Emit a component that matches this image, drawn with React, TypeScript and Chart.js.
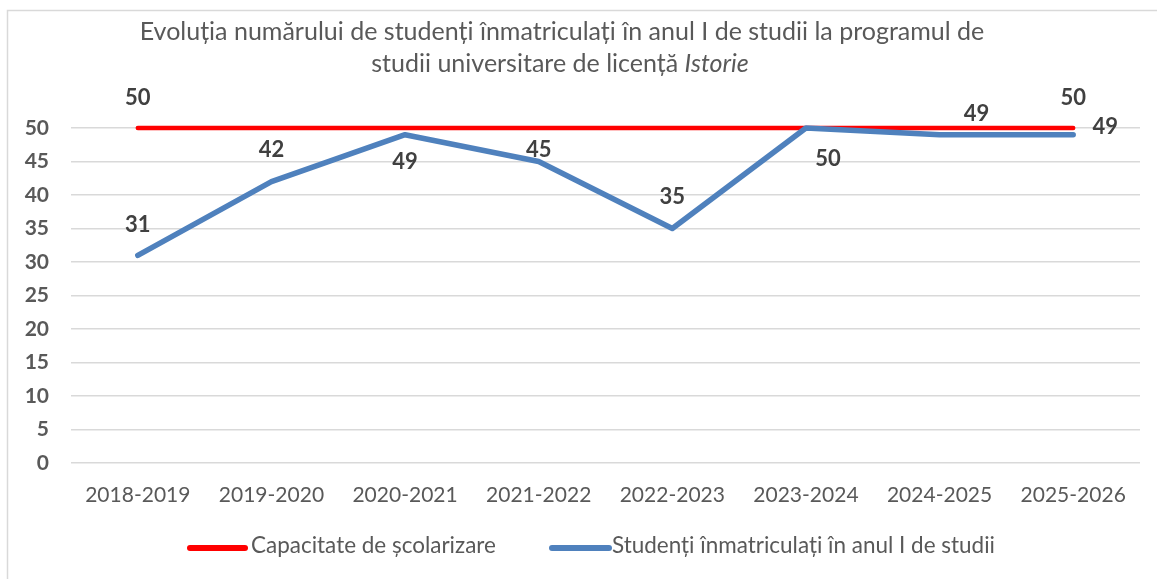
import React, { useEffect, useRef } from "react";
import { Chart, registerables } from "chart.js";

Chart.register(...registerables);

// ---------- data ----------
const categories = [
  "2018-2019",
  "2019-2020",
  "2020-2021",
  "2021-2022",
  "2022-2023",
  "2023-2024",
  "2024-2025",
  "2025-2026",
];
const capacityValues = [50, 50, 50, 50, 50, 50, 50, 50];
const enrolledValues = [31, 42, 49, 45, 35, 50, 49, 49];
const seriesNames = [
  "Capacitate de școlarizare",
  "Studenți înmatriculați în anul I de studii",
];
const yMin = 0;
const yMax = 50;
const yStep = 5;
const titleLine1 =
  "Evoluția numărului de studenți înmatriculați în anul I de studii la programul de";
const titleLine2 = "studii universitare de licență ";
const titleItalic = "Istorie";

// label placement (style): [dx, dy] offset from the point, null = no label
const capacityLabelOffsets: ([number, number] | null)[] = [
  [0, -30], null, null, null, null, null, null, [0, -30],
];
const enrolledLabelOffsets: ([number, number] | null)[] = [
  [0, -30], [0, -32], [0, 27], [0, -12], [0, -32], [22, 31], [37, -21], [32, -8],
];

const FONT = "Lato, 'Liberation Sans', sans-serif";
const RED = "#FF0000";
const BLUE = "#4F81BD";
const W = 1157;
const H = 579;

const decorPlugin = {
  id: "decor",
  beforeDraw(chart: any) {
    const ctx = chart.ctx as CanvasRenderingContext2D;
    ctx.save();
    ctx.fillStyle = "#ffffff";
    ctx.fillRect(0, 0, chart.width, chart.height);
    ctx.strokeStyle = "#D9D9D9";
    ctx.lineWidth = 1.5;
    ctx.beginPath();
    ctx.moveTo(7.5, chart.height);
    ctx.lineTo(7.5, 10.5);
    ctx.lineTo(chart.width, 10.5);
    ctx.stroke();
    ctx.restore();
  },
  afterDatasetsDraw(chart: any) {
    const ctx = chart.ctx as CanvasRenderingContext2D;
    ctx.save();
    ctx.font = `bold 22px ${FONT}`;
    ctx.fillStyle = "#404040";
    ctx.textAlign = "center";
    ctx.textBaseline = "middle";
    const offsetsList = [capacityLabelOffsets, enrolledLabelOffsets];
    chart.data.datasets.forEach((ds: any, di: number) => {
      const meta = chart.getDatasetMeta(di);
      meta.data.forEach((pt: any, i: number) => {
        const off = offsetsList[di][i];
        if (!off) return;
        ctx.fillText(String(ds.data[i]), pt.x + off[0], pt.y + off[1]);
      });
    });
    ctx.restore();
  },
  afterDraw(chart: any) {
    const ctx = chart.ctx as CanvasRenderingContext2D;
    ctx.save();
    // title
    ctx.fillStyle = "#595959";
    ctx.textAlign = "left";
    ctx.textBaseline = "alphabetic";
    ctx.font = `22px ${FONT}`;
    const w0 = ctx.measureText(titleLine1).width;
    const tSize = (22 * 845) / w0;
    ctx.font = `${tSize}px ${FONT}`;
    const w1 = ctx.measureText(titleLine1).width;
    ctx.fillText(titleLine1, 562 - w1 / 2, 40);
    const w2a = ctx.measureText(titleLine2).width;
    ctx.font = `italic ${tSize}px ${FONT}`;
    const w2b = ctx.measureText(titleItalic).width;
    const start2 = 560 - (w2a + w2b) / 2;
    ctx.font = `${tSize}px ${FONT}`;
    ctx.fillText(titleLine2, start2, 72);
    ctx.font = `italic ${tSize}px ${FONT}`;
    ctx.fillText(titleItalic, start2 + w2a, 72);

    // legend
    ctx.font = `21px ${FONT}`;
    const lw0 = ctx.measureText(seriesNames[0]).width;
    const lSize = (21 * 245) / lw0;
    ctx.font = `${lSize}px ${FONT}`;
    ctx.textBaseline = "middle";
    const items = [
      { color: RED, x0: 190, x1: 245, tx: 251, text: seriesNames[0] },
      { color: BLUE, x0: 552, x1: 609, tx: 612, text: seriesNames[1] },
    ];
    items.forEach((it) => {
      ctx.strokeStyle = it.color;
      ctx.lineWidth = 6;
      ctx.lineCap = "round";
      ctx.beginPath();
      ctx.moveTo(it.x0, 548);
      ctx.lineTo(it.x1, 548);
      ctx.stroke();
      ctx.fillStyle = "#595959";
      ctx.fillText(it.text, it.tx, 546);
    });
    ctx.restore();
  },
};

export default function App() {
  const canvasRef = useRef<HTMLCanvasElement | null>(null);

  useEffect(() => {
    const canvas = canvasRef.current;
    if (!canvas) return;
    const chart = new Chart(canvas, {
      type: "line",
      data: {
        labels: categories,
        datasets: [
          {
            label: seriesNames[0],
            data: capacityValues,
            borderColor: RED,
            backgroundColor: RED,
            borderWidth: 4.5,
            pointRadius: 0,
            tension: 0,
            borderCapStyle: "round",
            borderJoinStyle: "round",
            clip: false,
            order: 1,
          },
          {
            label: seriesNames[1],
            data: enrolledValues,
            borderColor: BLUE,
            backgroundColor: BLUE,
            borderWidth: 5.5,
            pointRadius: 0,
            tension: 0,
            borderCapStyle: "round",
            borderJoinStyle: "round",
            clip: false,
            order: 0,
          },
        ],
      },
      options: {
        responsive: false,
        animation: false,
        devicePixelRatio: 1,
        layout: { padding: { top: 128, right: 17, left: 0, bottom: 0 } },
        plugins: {
          legend: { display: false },
          title: { display: false },
          tooltip: { enabled: false },
        },
        scales: {
          x: {
            type: "category",
            offset: true,
            grid: { display: false, drawTicks: false },
            border: { display: false },
            ticks: {
              font: { family: FONT, size: 21 },
              color: "#595959",
              padding: 20,
              maxRotation: 0,
              autoSkip: false,
            },
            afterFit: (scale: any) => {
              scale.height = H - 463;
            },
          },
          y: {
            min: yMin,
            max: yMax,
            grid: { color: "#D9D9D9", lineWidth: 1.5, drawTicks: false },
            border: { display: false },
            ticks: {
              stepSize: yStep,
              font: { family: FONT, size: 21, weight: "bold" },
              color: "#595959",
              padding: 22,
            },
            afterFit: (scale: any) => {
              scale.width = 71;
            },
          },
        },
      },
      plugins: [decorPlugin],
    });
    return () => chart.destroy();
  }, []);

  return (
    <div style={{ position: "fixed", left: 0, top: 0, width: W, height: H, background: "#fff" }}>
      <canvas ref={canvasRef} width={W} height={H} style={{ width: W, height: H, display: "block" }} />
    </div>
  );
}
